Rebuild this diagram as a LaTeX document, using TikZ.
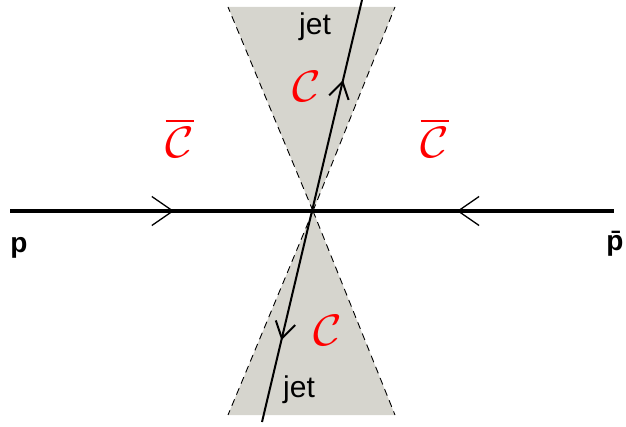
\documentclass[tikz,border=0pt]{standalone}
\usepackage{fontspec}
\setmainfont{Liberation Sans}
\usepackage{graphicx}
\usetikzlibrary{arrows.meta,decorations.markings}
\definecolor{conegray}{RGB}{214,213,206}
\newcommand{\calC}{\scalebox{4.9}[4.4]{$\mathcal{C}$}}
\newcommand{\calCbar}{\scalebox{4.9}[4.4]{$\overline{\mathcal{C}}$}}
\begin{document}
\begin{tikzpicture}[x=1pt,y=-1pt,
  cone/.style={fill=conegray,draw=none},
  coneedge/.style={draw=black,dash pattern=on 7pt off 5pt,line width=0.9pt},
  beam/.style={line width=4.3pt},
  jetline/.style={line width=2pt},
  lbl/.style={inner sep=0pt,font=\fontsize{30}{32}\selectfont},
  plbl/.style={inner sep=0pt,font=\fontsize{28}{30}\selectfont\bfseries},
  region/.style={inner sep=0pt,text=red}]
\useasboundingbox (0,0) rectangle (626,427);
\coordinate (O) at (313,211);
\coordinate (TL) at (228,7);
\coordinate (TR) at (395,7);
\coordinate (BL) at (228,415);
\coordinate (BR) at (395,415);
\fill[cone] (O) -- (TL) -- (TR) -- cycle;
\fill[cone] (O) -- (BL) -- (BR) -- cycle;
\draw[coneedge] (O) -- (TL);
\draw[coneedge] (O) -- (TR);
\draw[coneedge] (O) -- (BL);
\draw[coneedge] (O) -- (BR);
\coordinate (pin) at (10,211);
\coordinate (pbarin) at (614,211);
\draw[beam,postaction=decorate,decoration={markings,
  mark=at position 0.2715 with {\arrow{Straight Barb[length=21pt,width=29pt,line width=1.3pt]}},
  mark=at position 0.740 with {\arrowreversed{Straight Barb[length=21pt,width=29pt,line width=1.3pt]}}}]
  (pin) -- (pbarin);
\coordinate (jb) at (262,422);
\coordinate (jt) at (362,0);
\draw[jetline,postaction=decorate,decoration={markings,
  mark=at position 0.81 with {\arrow{Straight Barb[length=16pt,width=20pt,line width=2pt]}},
  mark=at position 0.194 with {\arrowreversed{Straight Barb[length=16pt,width=20pt,line width=2pt]}}}]
  (jb) -- (jt);
\node[lbl] (jet1) at (315,27) {jet};
\node[lbl] (jet2) at (299,390) {jet};
\node[region] (c1) at (307,86) {\calC};
\node[region] (c2) at (328,330) {\calC};
\node[region] (cb1) at (180,138) {\calCbar};
\node[region] (cb2) at (435,138) {\calCbar};
\node[plbl] (p) at (19,248) {p};
\node[plbl] (pb) at (615,244) {p\char"0304};
\end{tikzpicture}
\end{document}
